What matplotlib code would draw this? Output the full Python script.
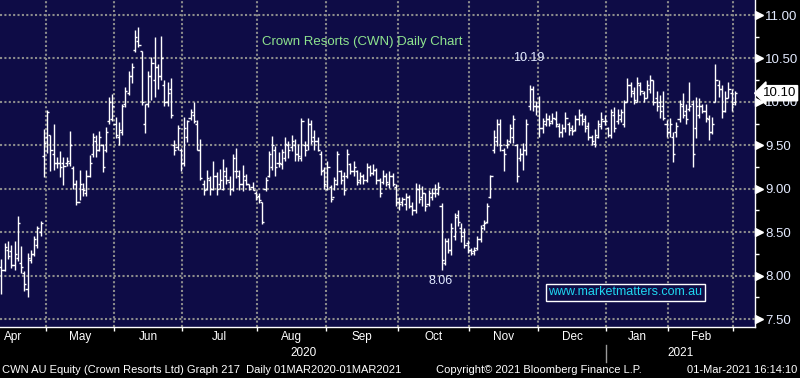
import numpy as np
import matplotlib
matplotlib.use("Agg")
import matplotlib.pyplot as plt
from matplotlib.transforms import blended_transform_factory as btf, ScaledTranslation

plt.rcParams['font.family'] = ['Liberation Sans', 'DejaVu Sans']

# ---------------- data ----------------
months = ["Apr", "May", "Jun", "Jul", "Aug", "Sep", "Oct", "Nov", "Dec", "Jan", "Feb", "Mar"]
month_trading_days = [20, 21, 21, 23, 21, 22, 22, 21, 21, 19, 20, 1]
years = ["2020", "2021"]
first_bar_slot = 6          # first April sessions are left of the visible window

high = [
    8.19, 8.38, 8.40, 8.35, 8.40, 8.69, 8.34, 8.05, 8.26, 8.30, 8.45, 8.57, 8.63, 9.69,
    9.91, 9.62, 9.74, 9.37, 9.44, 9.37, 9.37, 9.66, 9.26, 9.10, 9.22, 9.07, 9.22, 9.39, 9.64, 9.62, 9.66, 9.52, 9.71, 10.06, 10.09,
    9.83, 9.77, 9.98, 10.17, 10.36, 10.45, 10.83, 10.86, 10.59, 9.98, 10.36, 10.52, 10.75, 10.44, 10.76, 10.25, 10.23, 10.27, 9.56, 9.73, 9.47,
    9.83, 9.79, 9.92, 10.00, 9.79, 9.57, 9.10, 9.21, 9.15, 9.32, 9.19, 9.23, 9.34, 9.25, 9.15, 9.40, 9.47, 9.21, 9.27, 9.17, 9.06, 9.08, 8.97,
    8.95, 8.85, 9.14, 9.44, 9.61, 9.49, 9.42, 9.46, 9.59, 9.55, 9.62, 9.57, 9.51, 9.81, 9.55, 9.81, 9.79, 9.68, 9.59, 9.44, 9.25,
    9.32, 9.04, 9.14, 9.44, 9.21, 9.19, 9.46, 9.30, 9.32, 9.21, 9.19, 9.17, 9.30, 9.27, 9.28, 9.24, 9.12, 9.22, 9.18, 9.20, 9.18, 9.05,
    8.91, 8.91, 8.95, 8.93, 8.85, 9.07, 9.05, 9.03, 8.95, 8.99, 9.01, 9.05, 9.08, 8.83, 8.43, 8.43, 8.60, 8.72, 8.76, 8.60, 8.55, 8.41,
    8.32, 8.33, 8.45, 8.58, 8.64, 8.83, 9.16, 9.68, 9.80, 9.80, 9.47, 9.57, 9.74, 9.85, 9.51, 9.47, 9.53, 9.80, 10.19, 10.18, 10.01,
    10.07, 9.82, 9.87, 9.85, 9.87, 9.90, 9.76, 9.75, 9.88, 9.77, 9.73, 9.85, 9.92, 9.87, 9.85, 9.77, 9.62, 9.69, 9.79, 9.88, 9.85,
    9.71, 9.92, 9.94, 9.92, 9.92, 10.02, 10.27, 10.23, 10.17, 10.29, 10.23, 10.13, 10.25, 10.31, 10.25, 10.12, 10.08, 10.13, 9.79,
    9.81, 9.65, 9.77, 10.02, 10.10, 9.98, 10.23, 10.02, 10.06, 10.04, 9.98, 9.98, 9.85, 9.83, 10.44, 10.25, 10.19, 10.12, 10.23, 10.15,
    10.13,
]
low = [
    7.79, 8.05, 8.19, 8.09, 8.07, 8.17, 8.03, 7.82, 7.75, 8.15, 8.23, 8.32, 8.45, 9.14,
    9.41, 9.20, 9.22, 9.24, 9.14, 9.04, 9.26, 9.26, 9.00, 8.81, 8.87, 8.92, 8.92, 9.14, 9.36, 9.37, 9.43, 9.19, 9.42, 9.75, 9.78,
    9.58, 9.50, 9.62, 9.94, 10.08, 10.22, 10.57, 10.63, 9.96, 9.64, 9.94, 10.02, 10.06, 10.15, 10.25, 9.95, 9.95, 9.82, 9.39, 9.45, 9.20,
    9.26, 9.54, 9.79, 9.76, 9.45, 9.10, 8.93, 8.98, 8.93, 8.98, 8.93, 9.00, 8.98, 9.06, 8.93, 8.97, 9.12, 8.98, 8.97, 9.04, 8.98, 8.98, 8.87,
    8.83, 8.59, 8.97, 9.14, 9.21, 9.15, 9.25, 9.23, 9.32, 9.35, 9.44, 9.32, 9.32, 9.32, 9.38, 9.45, 9.51, 9.45, 9.44, 9.16, 9.00,
    8.98, 8.85, 8.98, 9.04, 9.06, 8.93, 9.12, 9.17, 9.15, 9.04, 9.06, 9.06, 9.08, 9.15, 9.16, 9.05, 8.91, 9.05, 9.03, 9.01, 9.03, 8.80,
    8.76, 8.80, 8.76, 8.78, 8.70, 8.72, 8.83, 8.80, 8.74, 8.80, 8.87, 8.91, 8.93, 8.06, 8.12, 8.26, 8.24, 8.41, 8.57, 8.39, 8.32, 8.26,
    8.24, 8.24, 8.30, 8.39, 8.53, 8.60, 8.89, 9.41, 9.49, 9.43, 9.20, 9.47, 9.53, 9.53, 9.08, 9.32, 9.22, 9.39, 9.91, 9.89, 9.85,
    9.60, 9.64, 9.72, 9.72, 9.74, 9.71, 9.60, 9.60, 9.65, 9.62, 9.62, 9.67, 9.73, 9.73, 9.65, 9.56, 9.50, 9.48, 9.58, 9.69, 9.73,
    9.60, 9.58, 9.65, 9.75, 9.77, 9.71, 10.00, 10.06, 9.98, 10.00, 10.08, 10.00, 10.04, 10.10, 9.96, 9.90, 9.81, 9.79, 9.60,
    9.60, 9.31, 9.60, 9.77, 9.81, 9.75, 9.90, 9.25, 9.58, 9.81, 9.87, 9.77, 9.56, 9.63, 10.00, 10.06, 9.81, 9.88, 10.04, 9.90,
    9.96,
]
open_ = [
    8.10, 8.07, 8.30, 8.28, 8.12, 8.20, 8.15, 8.03, 7.85, 8.18, 8.25, 8.35, 8.50, 9.38,
    9.60, 9.62, 9.40, 9.30, 9.30, 9.30, 9.30, 9.30, 9.24, 9.05, 8.85, 9.00, 8.95, 9.15, 9.40, 9.55, 9.45, 9.50, 9.45, 9.78, 9.80,
    9.75, 9.60, 9.65, 9.98, 10.10, 10.30, 10.60, 10.70, 10.59, 9.75, 9.98, 10.30, 10.25, 10.40, 10.30, 10.20, 10.00, 10.15, 9.50, 9.48, 9.45,
    9.30, 9.60, 9.82, 9.85, 9.75, 9.45, 9.05, 9.00, 9.10, 9.00, 9.15, 9.05, 9.00, 9.15, 9.08, 9.00, 9.20, 9.15, 9.05, 9.10, 9.05, 9.02, 8.95,
    8.92, 8.85, 9.00, 9.15, 9.25, 9.45, 9.30, 9.28, 9.35, 9.50, 9.48, 9.50, 9.40, 9.35, 9.50, 9.50, 9.75, 9.60, 9.55, 9.40, 9.22,
    9.00, 9.02, 8.90, 9.05, 9.20, 9.15, 9.15, 9.28, 9.20, 9.20, 9.10, 9.15, 9.10, 9.25, 9.18, 9.22, 9.10, 9.08, 9.15, 9.05, 9.15, 9.02,
    8.85, 8.85, 8.82, 8.90, 8.80, 8.75, 9.00, 8.90, 8.95, 8.82, 8.90, 8.95, 8.95, 8.80, 8.15, 8.40, 8.30, 8.45, 8.70, 8.55, 8.50, 8.38,
    8.30, 8.28, 8.32, 8.42, 8.58, 8.62, 8.90, 9.45, 9.55, 9.75, 9.45, 9.50, 9.55, 9.60, 9.50, 9.35, 9.40, 9.45, 9.95, 10.15, 9.95,
    9.95, 9.70, 9.75, 9.80, 9.78, 9.80, 9.72, 9.65, 9.70, 9.75, 9.70, 9.68, 9.80, 9.85, 9.80, 9.72, 9.60, 9.52, 9.60, 9.72, 9.78,
    9.70, 9.62, 9.85, 9.78, 9.80, 9.75, 10.00, 10.20, 10.10, 10.00, 10.20, 10.10, 10.05, 10.15, 10.25, 10.05, 10.00, 9.95, 9.75,
    9.65, 9.60, 9.65, 9.80, 9.95, 9.90, 9.92, 9.98, 9.70, 9.85, 9.95, 9.90, 9.80, 9.65, 10.00, 10.20, 10.15, 9.90, 10.05, 10.10,
    10.00,
]
close = [
    8.07, 8.33, 8.22, 8.12, 8.25, 8.60, 8.10, 7.90, 8.20, 8.25, 8.42, 8.55, 8.60, 9.53,
    9.88, 9.45, 9.30, 9.30, 9.25, 9.26, 9.32, 9.50, 9.05, 8.85, 9.05, 8.98, 9.15, 9.30, 9.60, 9.45, 9.60, 9.25, 9.65, 10.00, 9.95,
    9.62, 9.68, 9.95, 10.12, 10.30, 10.40, 10.75, 10.65, 10.00, 9.98, 10.30, 10.45, 10.40, 10.30, 10.50, 10.00, 10.10, 9.85, 9.45, 9.70, 9.30,
    9.70, 9.78, 9.88, 9.78, 9.45, 9.12, 8.98, 9.12, 9.00, 9.15, 9.00, 9.10, 9.20, 9.10, 9.00, 9.35, 9.20, 9.05, 9.15, 9.05, 9.00, 8.98, 8.90,
    8.87, 8.62, 9.10, 9.40, 9.50, 9.25, 9.30, 9.42, 9.52, 9.45, 9.55, 9.40, 9.38, 9.78, 9.45, 9.75, 9.55, 9.55, 9.45, 9.20, 9.05,
    9.25, 8.88, 9.10, 9.40, 9.10, 8.98, 9.40, 9.20, 9.25, 9.08, 9.15, 9.10, 9.25, 9.18, 9.22, 9.10, 8.95, 9.15, 9.08, 9.15, 9.05, 8.85,
    8.82, 8.88, 8.90, 8.80, 8.75, 9.00, 8.88, 8.95, 8.80, 8.95, 8.95, 9.00, 9.02, 8.18, 8.40, 8.30, 8.55, 8.68, 8.62, 8.45, 8.35, 8.30,
    8.26, 8.30, 8.42, 8.55, 8.60, 8.80, 9.15, 9.60, 9.75, 9.50, 9.40, 9.52, 9.70, 9.80, 9.15, 9.40, 9.45, 9.75, 10.15, 9.95, 9.95,
    9.70, 9.78, 9.80, 9.76, 9.82, 9.74, 9.65, 9.70, 9.82, 9.68, 9.66, 9.80, 9.85, 9.78, 9.70, 9.60, 9.55, 9.62, 9.75, 9.80, 9.78,
    9.62, 9.88, 9.70, 9.85, 9.88, 10.00, 10.20, 10.12, 10.02, 10.22, 10.12, 10.05, 10.20, 10.25, 10.00, 9.95, 9.90, 9.82, 9.65,
    9.75, 9.40, 9.72, 9.98, 9.85, 9.80, 9.95, 9.40, 9.95, 9.95, 9.90, 9.82, 9.65, 9.75, 10.25, 10.15, 9.90, 10.05, 10.15, 9.98,
    10.10,
]
annotated_high_bar = 162     # "10.19"
annotated_low_bar = 135      # "8.06"
y_ticks = [7.50, 8.00, 8.50, 9.00, 9.50, 10.00, 10.50, 11.00]

title = "Crown Resorts (CWN) Daily Chart"
footer_left = "CWN AU Equity (Crown Resorts Ltd) Graph 217  Daily 01MAR2020-01MAR2021"
footer_mid = "Copyright\u00a9 2021 Bloomberg Finance L.P."
footer_right = "01-Mar-2021 16:14:10"
watermark = "www.marketmatters.com.au"

assert len(high) == len(low) == len(open_) == len(close) == sum(month_trading_days) - first_bar_slot

# ---------------- figure ----------------
W, H = 800, 378
fig = plt.figure(figsize=(W / 100, H / 100), dpi=100, facecolor='black')
ax = fig.add_axes([0, 51 / H, 755 / W, 327 / H])
bg = '#0e0c46'
ax.set_facecolor(bg)

high = np.array(high); low = np.array(low); open_ = np.array(open_); close = np.array(close)
n = len(high)
xpos = np.arange(n) + first_bar_slot
month_starts = np.concatenate([[0], np.cumsum(month_trading_days)[:-1]])
month_ends = np.cumsum(month_trading_days)

px_per_slot = 3.26
xl = first_bar_slot - 1.5 / px_per_slot
xr = xl + 755 / px_per_slot
ax.set_xlim(xl, xr)
ax.set_ylim(7.408, 11.173)

# grid
grid_kw = dict(color='#8c8c8c', lw=1.5, ls=(0, (1, 1.1)), zorder=1)
for b in month_starts[1:]:
    ax.axvline(b - 0.5, **grid_kw)
for v in y_ticks:
    ax.axhline(v, **grid_kw)

# OHLC bars
ax.vlines(xpos, low, high, color='white', lw=1.0, zorder=3)
ax.hlines(open_, xpos - 0.65, xpos, color='white', lw=1.0, zorder=3)
ax.hlines(close, xpos, xpos + 0.65, color='white', lw=1.0, zorder=3)

# spines
for s in ['top', 'left']:
    ax.spines[s].set_visible(False)
for s in ['right', 'bottom']:
    ax.spines[s].set_color('white')
    ax.spines[s].set_linewidth(1.0)

# y axis (right)
ax.yaxis.tick_right()
ax.set_yticks(y_ticks)
ax.set_yticklabels([f"{v:.2f}" for v in y_ticks])
ax.set_yticks(np.array(y_ticks[:-1]) + 0.25, minor=True)
ax.tick_params(axis='y', which='major', length=0, pad=7.5, labelsize=9.5, labelcolor='#e4ebff')
ax.tick_params(axis='y', which='minor', length=3, width=1, color='white', direction='out')
tri_tr = btf(ax.transAxes, ax.transData) + ScaledTranslation(0.035, 0, fig.dpi_scale_trans)
ax.plot(np.ones(len(y_ticks)), y_ticks, ls='none', marker='>', ms=5.5, color='white',
        transform=tri_tr, clip_on=False, zorder=5)

# x axis
ax.set_xticks(month_starts[1:] - 0.5)
ax.tick_params(axis='x', which='major', length=3, width=1, color='white', labelbottom=False)
lab_tr = btf(ax.transData, fig.transFigure)
for m, s, e, d in zip(months, month_starts, month_ends, month_trading_days):
    if d > 1:
        ax.text((s + e) / 2 - 0.5, 1 - 337 / H, m, transform=lab_tr, ha='center', va='center',
                color='white', fontsize=8.5, clip_on=False)
year_break = month_starts[months.index("Jan")] - 0.5
ax.text((xl + year_break) / 2, 1 - 353 / H, years[0], transform=lab_tr, ha='center', va='center',
        color='white', fontsize=8.5, clip_on=False)
ax.text((year_break + xr) / 2, 1 - 353 / H, years[1], transform=lab_tr, ha='center', va='center',
        color='white', fontsize=8.5, clip_on=False)
ax.plot([year_break, year_break], [1 - 345 / H, 1 - 362 / H], transform=lab_tr, color='#9a9a9a',
        lw=1, clip_on=False)

# annotations
k = annotated_high_bar
ax.annotate(f"{high[k]:.2f}", xy=(xpos[k], high[k]), xytext=(-0.5, 20), textcoords='offset points',
            ha='center', va='center', color='#e0e8ff', fontsize=9)
k = annotated_low_bar
ax.annotate(f"{low[k]:.2f}", xy=(xpos[k], low[k]), xytext=(-1, -8), textcoords='offset points',
            ha='center', va='center', color='#e0e8ff', fontsize=9)

# last price box
ax.annotate(f"{close[-1]:.2f}", xy=(1, close[-1]), xycoords=btf(ax.transAxes, ax.transData),
            xytext=(17.5, 0), textcoords='offset points', ha='center', va='center',
            color='black', fontsize=9.5, annotation_clip=False, zorder=10,
            bbox=dict(boxstyle='larrow,pad=0.12', fc='white', ec='white'))

# title and watermark
fig.text(262 / W, 1 - 42 / H, title, color='#8ee38e', fontsize=9.5, ha='left', va='center')
fig.text(625.5 / W, 1 - 292 / H, watermark, color='#1fd6f0', fontsize=9, ha='center', va='center',
         bbox=dict(boxstyle='square,pad=0.2', fc=bg, ec='white', lw=1))

# footer
fig.text(2 / W, 1 - 370 / H, footer_left, color='white', fontsize=8, ha='left', va='center')
fig.text(436 / W, 1 - 370 / H, footer_mid, color='white', fontsize=8, ha='left', va='center')
fig.text(797 / W, 1 - 370 / H, footer_right, color='white', fontsize=8, ha='right', va='center')

fig.savefig('out.png', dpi=100, facecolor='black')
